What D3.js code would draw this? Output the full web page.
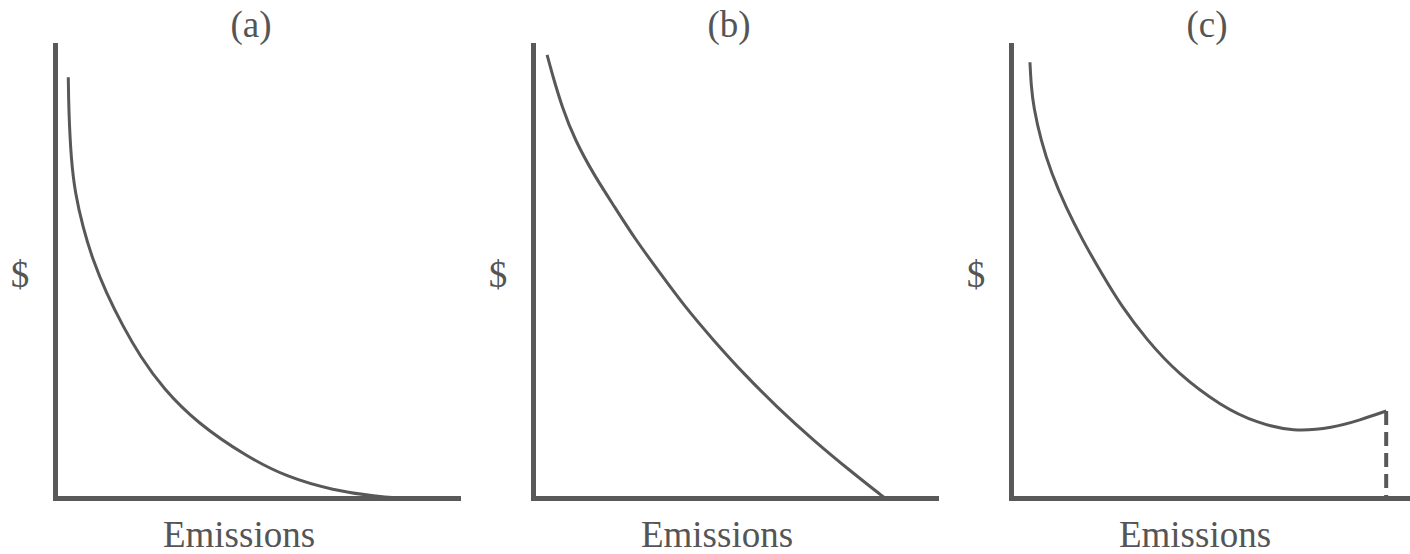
<!DOCTYPE html>
<html>
<head>
<meta charset="utf-8">
<script src="https://cdn.jsdelivr.net/npm/d3@7"></script>
<style>
  body { margin: 0; background: #fff; }
  .axis path.domain { stroke: #595959; stroke-width: 5; stroke-linecap: square; }
  .curve { fill: none; stroke: #585858; stroke-width: 3; }
  .drop { stroke: #585858; stroke-width: 4; stroke-dasharray: 14,7; }
  text { font-family: "Liberation Serif", "Times New Roman", serif; font-size: 37px; fill: #555; }
</style>
</head>
<body>
<svg id="chart"></svg>
<script>
// panel titles and labels
const titles = ['(a)', '(b)', '(c)'];
const xLabel = 'Emissions';
const yLabel = '$';

// curves, in axis units (0..10 on both axes)
const curveA = [
  [0.33, 9.29], [0.34, 8.57], [0.40, 7.46], [0.50, 6.73], [0.69, 5.98],
  [0.94, 5.25], [1.27, 4.53], [1.68, 3.80], [2.11, 3.13], [2.68, 2.42],
  [3.52, 1.66], [4.76, 0.91], [5.76, 0.46], [6.90, 0.17], [7.99, 0.03],
  [8.56, 0]
];
const curveB = [
  [0.35, 9.78], [0.47, 9.38], [0.72, 8.63], [1.04, 7.90], [1.52, 7.12],
  [2.03, 6.42], [2.53, 5.72], [3.15, 4.97], [3.77, 4.22], [4.47, 3.49],
  [5.21, 2.76], [6.05, 2.01], [6.95, 1.28], [7.94, 0.55], [8.73, 0]
];
const curveC = [
  [0.47, 9.62], [0.50, 9.10], [0.56, 8.63], [0.74, 7.90], [1.00, 7.17],
  [1.36, 6.42], [1.77, 5.70], [2.24, 4.97], [2.75, 4.22], [3.37, 3.49],
  [4.12, 2.76], [5.24, 2.01], [6.10, 1.66], [7.00, 1.46], [7.99, 1.55],
  [8.66, 1.72], [9.31, 1.92]
];
// the dashed drop in panel (c) sits at the last point of curve C
const curves = [curveA, curveB, curveC];

const width = 1410, height = 554;
const panelStep = 478;
const margin = { left: 55, top: 45 };
const plotW = 403, plotH = 453;

const svg = d3.select('#chart')
  .attr('width', width)
  .attr('height', height);

const xScale = d3.scaleLinear().domain([0, 10]).range([0, plotW]);
const yScale = d3.scaleLinear().domain([0, 10]).range([plotH, 0]);

// basis spline smooths out the reading noise in the points
const line = d3.line()
  .x(d => xScale(d[0]))
  .y(d => yScale(d[1]))
  .curve(d3.curveBasis);

titles.forEach((t, i) => {
  const g = svg.append('g')
    .attr('transform', `translate(${margin.left + i * panelStep},${margin.top})`);

  // axes: only the domain lines, no ticks
  g.append('g')
    .attr('class', 'axis')
    .attr('transform', `translate(0,${plotH})`)
    .call(d3.axisBottom(xScale).ticks(0).tickSizeOuter(0));

  g.append('g')
    .attr('class', 'axis')
    .call(d3.axisLeft(yScale).ticks(0).tickSizeOuter(0));

  g.append('path')
    .datum(curves[i])
    .attr('class', 'curve')
    .attr('d', line);

  if (i === 2) {
    const last = curves[i][curves[i].length - 1];
    g.append('line')
      .attr('class', 'drop')
      .attr('x1', xScale(last[0]))
      .attr('x2', xScale(last[0]))
      .attr('y1', yScale(last[1]))
      .attr('y2', yScale(0));
  }

  g.append('text')
    .attr('x', 196)
    .attr('y', -8)
    .attr('text-anchor', 'middle')
    .text(t);

  g.append('text')
    .attr('x', -35)
    .attr('y', 242)
    .attr('text-anchor', 'middle')
    .text(yLabel);

  g.append('text')
    .attr('x', 184)
    .attr('y', 502)
    .attr('text-anchor', 'middle')
    .text(xLabel);
});
</script>
</body>
</html>
